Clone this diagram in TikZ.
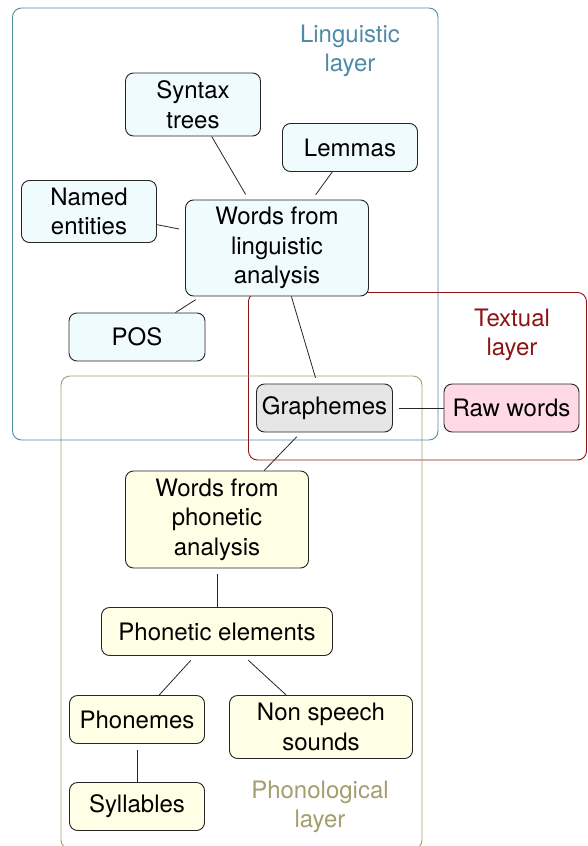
\documentclass[tikz,border=0pt]{standalone}
\usepackage{fontspec}
\setmainfont{TeX Gyre Heros}
\definecolor{lingLine}{HTML}{4E8BA6}
\definecolor{textLine}{HTML}{8B1515}
\definecolor{phonLine}{HTML}{A39E6E}
\definecolor{lingFill}{HTML}{F0FBFE}
\definecolor{phonFill}{HTML}{FFFFE6}
\definecolor{graphFill}{HTML}{E6E6E6}
\definecolor{rawFill}{HTML}{FFD9E6}

\begin{document}
\begin{tikzpicture}
[x=1pt,y=-1pt,
  nodeDecorate/.style={shape=rectangle,rounded corners=8pt,draw=black!85,
    line width=0.9pt,align=center,inner sep=0pt,
    minimum width=135pt,minimum height=48pt,
    font=\fontsize{24}{29.5}\selectfont},%
  layerDecorate/.style={rounded corners=9pt,line width=0.9pt},%
  layerLabel/.style={align=center,font=\fontsize{24}{29}\selectfont}]
\useasboundingbox (0,0) rectangle (587,846);
%% layers
\draw[layerDecorate,lingLine] (12.5,8) rectangle (438,440);
\draw[layerDecorate,textLine] (248.5,292.5) rectangle (586.5,460);
\draw[layerDecorate,phonLine] (61,376) rectangle (422,849);
\node (LingLabel) at (350,51) [layerLabel,text=lingLine] {Linguistic\\layer};
\node (TextLabel) at (512,335) [layerLabel,text=textLine] {Textual\\layer};
\node (PhonLabel) at (320,807) [layerLabel,text=phonLine] {Phonological\\layer};
%% nodes or vertices
\foreach \nodename/\x/\y/\w/\h/\colour/\caption in {
  SyntaxTrees/193/104.5/135/63/lingFill/{Syntax\\trees},
  Lemmas/350/147.5/135/48/lingFill/{Lemmas},
  NamedEntities/89/211.5/135/62/lingFill/{Named\\entities},
  WordsLing/277/248/183/96/lingFill/{Words from\\linguistic\\analysis},
  POS/137/337/136/48/lingFill/{POS},
  Graphemes/324.5/408/136/48/graphFill/{Graphemes},
  RawWords/511.5/408/135/48/rawFill/{Raw words},
  WordsPhon/217/519.5/183/97/phonFill/{Words from\\phonetic\\analysis},
  PhonElements/217/631.5/231/48/phonFill/{Phonetic elements},
  Phonemes/137/719.5/135/48/phonFill/{Phonemes},
  NonSpeech/321/727/183/63/phonFill/{Non speech\\sounds},
  Syllables/137/806.5/135/48/phonFill/{Syllables}}
{
  \node (\nodename) at (\x,\y) [nodeDecorate,fill=\colour,
    minimum width=\w pt,minimum height=\h pt] {\caption};
}
%% edges or lines
\tikzstyle{EdgeStyle}=[-,line width=0.8pt,black!85,shorten <=6pt]
\foreach \startnode/\endnode in {
  Graphemes/WordsLing, Graphemes/RawWords, Graphemes/WordsPhon,
  WordsLing/SyntaxTrees, WordsLing/Lemmas,
  WordsLing/NamedEntities, WordsLing/POS,
  WordsPhon/PhonElements, PhonElements/Phonemes,
  PhonElements/NonSpeech, Phonemes/Syllables}
{
  \draw[EdgeStyle] (\startnode) -- (\endnode);
}
\end{tikzpicture}
\end{document}
